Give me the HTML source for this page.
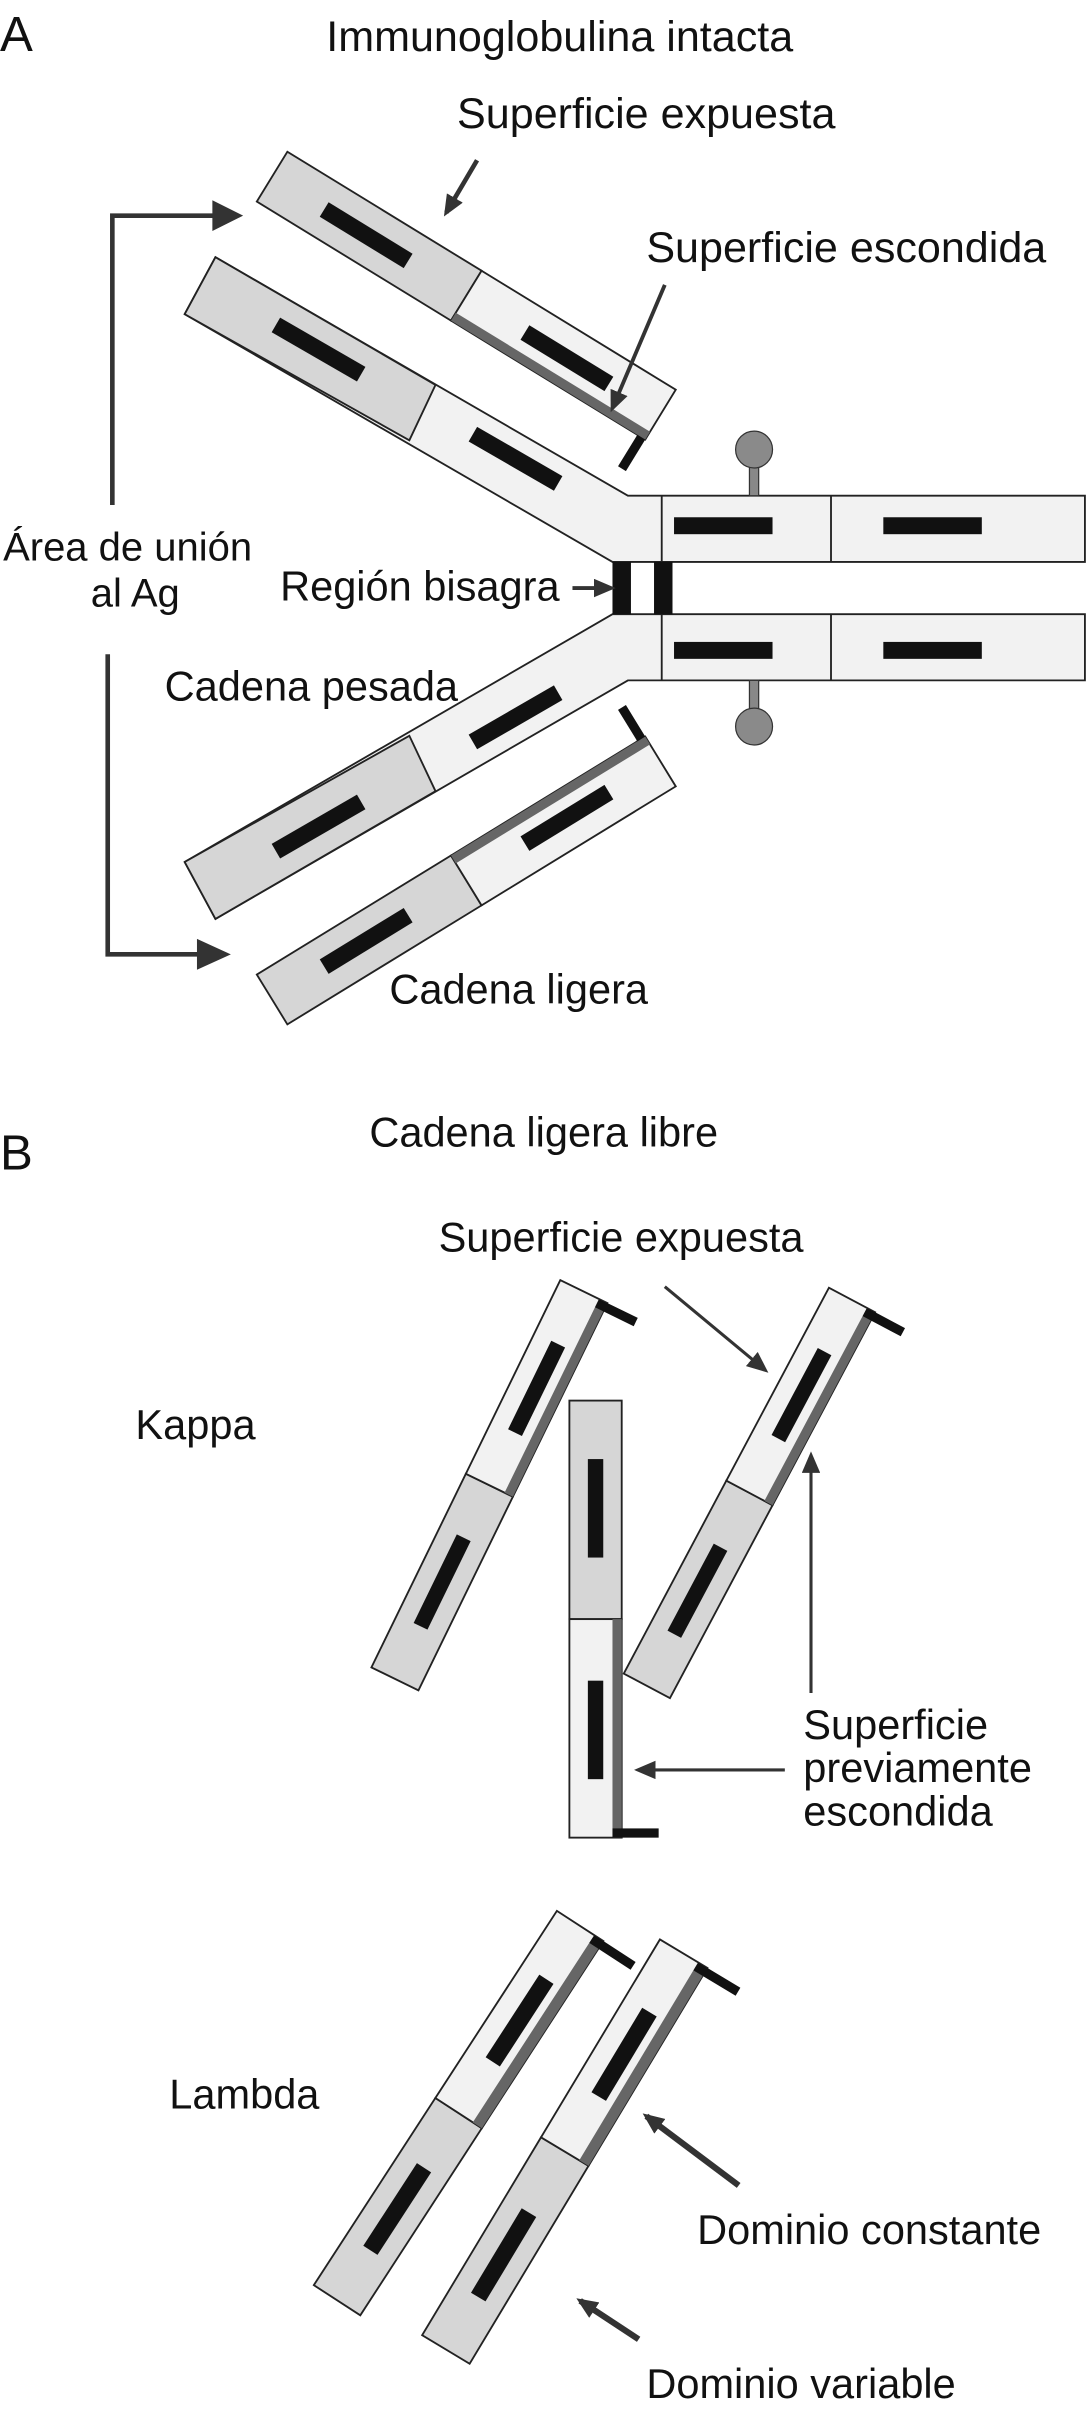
<!DOCTYPE html>
<html><head><meta charset="utf-8"><style>html,body{margin:0;padding:0;background:#fff}svg{display:block}text{font-family:"Liberation Sans",sans-serif;fill:#111}</style></head>
<body>
<svg width="1088" height="2418" viewBox="0 0 707 1571" xmlns="http://www.w3.org/2000/svg">
<defs>
<marker id="ah" markerWidth="14" markerHeight="12" refX="11" refY="6" orient="auto" markerUnits="userSpaceOnUse"><path d="M0,0 L14,6 L0,12 z" fill="#333"/></marker>
<g id="armUp">
 <polygon points="140,167 408,322 705,322 705,365 398,365 120,204" fill="#f2f2f2" stroke="#222" stroke-width="1.2"/>
 <polygon points="140,167 283,250 266,286 120,204" fill="#d6d6d6" stroke="#222" stroke-width="1.2"/>
 <line x1="430" y1="322" x2="430" y2="365" stroke="#222" stroke-width="1.2"/>
 <line x1="540" y1="322" x2="540" y2="365" stroke="#222" stroke-width="1.2"/>
 <rect x="438" y="336" width="64" height="11" fill="#111"/>
 <rect x="574" y="336" width="64" height="11" fill="#111"/>
 <rect x="-32" y="-5.5" width="64" height="11" fill="#111" transform="translate(207,227) rotate(30)"/>
 <rect x="-32" y="-5.5" width="64" height="11" fill="#111" transform="translate(335,298) rotate(30)"/>
 <rect x="487" y="298" width="6" height="24" fill="#888" stroke="#333" stroke-width="0.8"/>
 <circle cx="490" cy="292" r="12" fill="#8a8a8a" stroke="#333" stroke-width="0.8"/>
 <g transform="translate(303,192) rotate(31.5)">
  <rect x="-148" y="-19" width="148" height="38" fill="#d6d6d6" stroke="#222" stroke-width="1.2"/>
  <rect x="0" y="-19" width="148" height="38" fill="#f2f2f2" stroke="#222" stroke-width="1.2"/>
  <rect x="0" y="13" width="148" height="6" fill="#666"/>
  <rect x="142" y="19" width="6" height="24" fill="#111"/>
  <rect x="-108" y="-5" width="64" height="11" fill="#111"/>
  <rect x="45" y="-5" width="64" height="11" fill="#111"/>
 </g>
</g>
</defs>
<text x="0" y="33" font-size="32">A</text>
<text x="212" y="33" font-size="28">Immunoglobulina intacta</text>
<use href="#armUp"/>
<use href="#armUp" transform="matrix(1,0,0,-1,0,764)"/>
<rect x="398" y="365" width="12" height="34" fill="#111"/>
<rect x="425" y="365" width="12" height="34" fill="#111"/>
<text x="297" y="83" font-size="28">Superficie expuesta</text>
<line x1="310" y1="104" x2="290" y2="138" stroke="#333" stroke-width="3" marker-end="url(#ah)"/>
<text x="420" y="170" font-size="28">Superficie escondida</text>
<line x1="432" y1="185" x2="398" y2="265" stroke="#333" stroke-width="2.5" marker-end="url(#ah)"/>
<polyline points="73,328 73,140 140,140" fill="none" stroke="#333" stroke-width="3"/>
<polygon points="138,130 158,140 138,150" fill="#333"/>
<polyline points="70,425 70,620 130,620" fill="none" stroke="#333" stroke-width="3"/>
<polygon points="128,610 150,620 128,630" fill="#333"/>
<text x="2" y="364" font-size="26">Área de unión</text>
<text x="59" y="394" font-size="26">al Ag</text>
<text x="182" y="390" font-size="27">Región bisagra</text>
<line x1="372" y1="382" x2="397" y2="382" stroke="#333" stroke-width="2.5" marker-end="url(#ah)"/>
<text x="107" y="455" font-size="27">Cadena pesada</text>
<text x="253" y="652" font-size="27">Cadena ligera</text>

<text x="0" y="760" font-size="32">B</text>
<text x="240" y="745" font-size="27">Cadena ligera libre</text>
<g transform="translate(318,965) rotate(-64)">
 <rect x="-140" y="-17" width="140" height="34" fill="#d6d6d6" stroke="#222" stroke-width="1.2"/>
 <rect x="0" y="-17" width="140" height="34" fill="#f2f2f2" stroke="#222" stroke-width="1.2"/>
 <rect x="0" y="11" width="140" height="6" fill="#666"/>
 <rect x="134" y="11" width="6" height="28" fill="#111"/>
 <rect x="-102" y="-5" width="64" height="10" fill="#111"/>
 <rect x="38" y="-5" width="64" height="10" fill="#111"/>
</g>
<g transform="translate(487,970) rotate(-62)">
 <rect x="-142" y="-17" width="142" height="34" fill="#d6d6d6" stroke="#222" stroke-width="1.2"/>
 <rect x="0" y="-17" width="142" height="34" fill="#f2f2f2" stroke="#222" stroke-width="1.2"/>
 <rect x="0" y="11" width="142" height="6" fill="#666"/>
 <rect x="136" y="11" width="6" height="28" fill="#111"/>
 <rect x="-104" y="-5" width="64" height="10" fill="#111"/>
 <rect x="40" y="-5" width="64" height="10" fill="#111"/>
</g>
<g transform="translate(387,1052) rotate(90) scale(1,-1)">
 <rect x="-142" y="-17" width="142" height="34" fill="#d6d6d6" stroke="#222" stroke-width="1.2"/>
 <rect x="0" y="-17" width="142" height="34" fill="#f2f2f2" stroke="#222" stroke-width="1.2"/>
 <rect x="0" y="11" width="142" height="6" fill="#666"/>
 <rect x="136" y="11" width="6" height="30" fill="#111"/>
 <rect x="-104" y="-5" width="64" height="10" fill="#111"/>
 <rect x="40" y="-5" width="64" height="10" fill="#111"/>
</g>
<g transform="translate(298,1373) rotate(-57)">
 <rect x="-145" y="-18" width="145" height="36" fill="#d6d6d6" stroke="#222" stroke-width="1.2"/>
 <rect x="0" y="-18" width="145" height="36" fill="#f2f2f2" stroke="#222" stroke-width="1.2"/>
 <rect x="0" y="11" width="145" height="7" fill="#666"/>
 <rect x="139" y="11" width="6" height="32" fill="#111"/>
 <rect x="-106" y="-5" width="64" height="11" fill="#111"/>
 <rect x="40" y="-5" width="64" height="11" fill="#111"/>
</g>
<g transform="translate(367,1398) rotate(-59)">
 <rect x="-150" y="-18" width="150" height="36" fill="#d6d6d6" stroke="#222" stroke-width="1.2"/>
 <rect x="0" y="-18" width="150" height="36" fill="#f2f2f2" stroke="#222" stroke-width="1.2"/>
 <rect x="0" y="11" width="150" height="7" fill="#666"/>
 <rect x="144" y="11" width="6" height="32" fill="#111"/>
 <rect x="-110" y="-5" width="64" height="11" fill="#111"/>
 <rect x="42" y="-5" width="64" height="11" fill="#111"/>
</g>
<text x="285" y="813" font-size="27">Superficie expuesta</text>
<line x1="432" y1="836" x2="497" y2="890" stroke="#333" stroke-width="2" marker-end="url(#ah)"/>
<text x="88" y="935" font-size="27">Kappa</text>
<line x1="527" y1="1100" x2="527" y2="946" stroke="#333" stroke-width="2" marker-end="url(#ah)"/>
<line x1="510" y1="1150" x2="415" y2="1150" stroke="#333" stroke-width="2" marker-end="url(#ah)"/>
<text x="522" y="1130" font-size="27">Superficie</text>
<text x="522" y="1158" font-size="27">previamente</text>
<text x="522" y="1186" font-size="27">escondida</text>
<text x="110" y="1370" font-size="27">Lambda</text>
<line x1="480" y1="1420" x2="420" y2="1375" stroke="#333" stroke-width="4" marker-end="url(#ah)"/>
<text x="453" y="1458" font-size="27">Dominio constante</text>
<line x1="415" y1="1520" x2="377" y2="1495" stroke="#333" stroke-width="4" marker-end="url(#ah)"/>
<text x="420" y="1558" font-size="27">Dominio variable</text>
</svg>
</body></html>
